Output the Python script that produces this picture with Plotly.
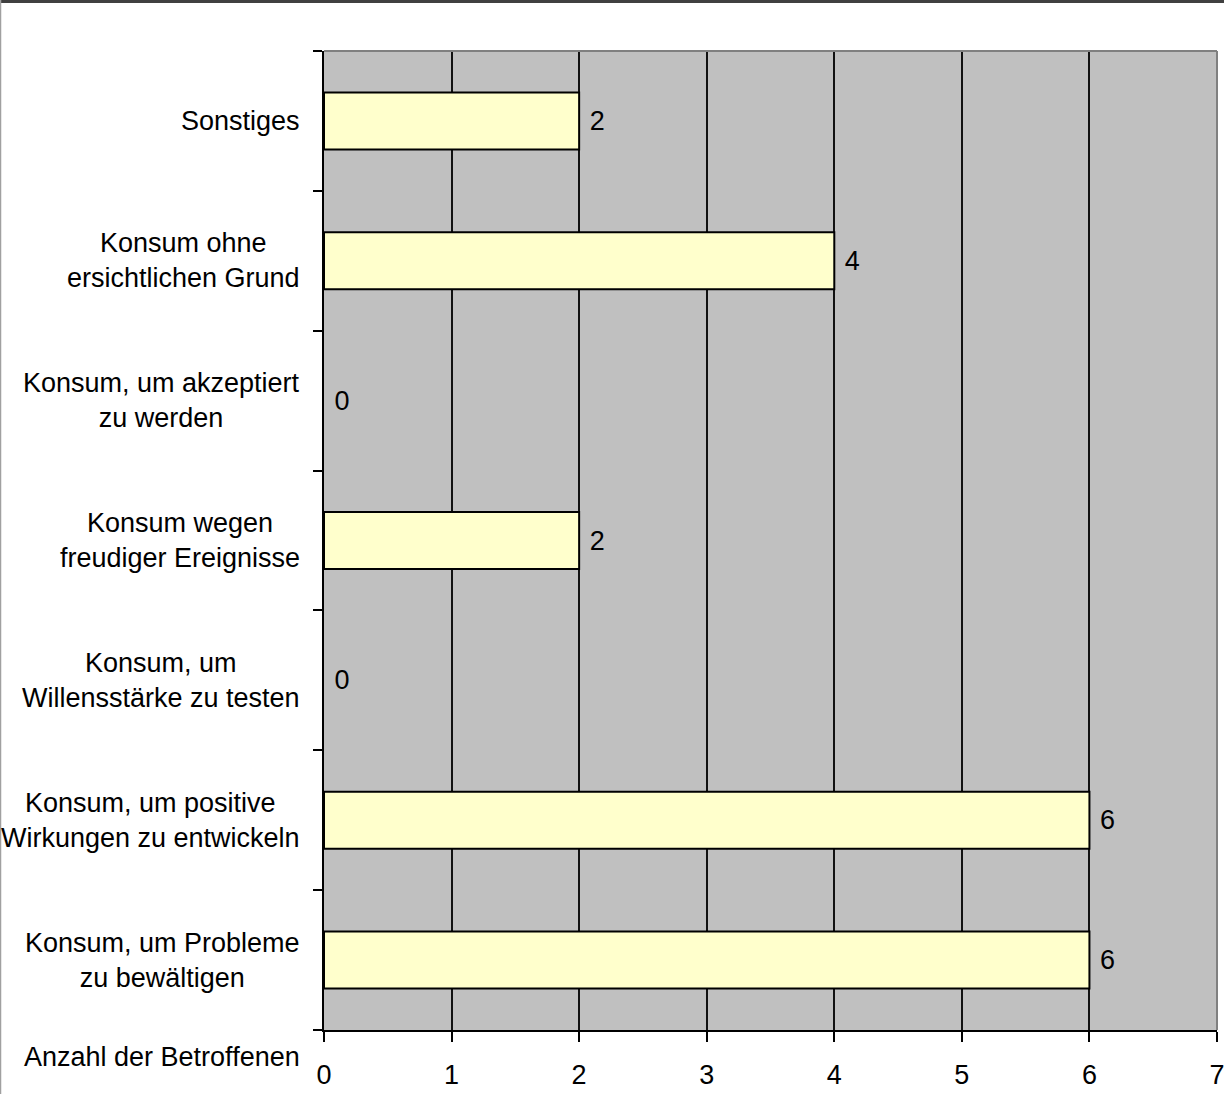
import plotly.graph_objects as go

# Reasons for consumption (listed bottom to top) and number of people affected
categories = [
    "Konsum, um Probleme<br>zu bewältigen",
    "Konsum, um positive<br>Wirkungen zu entwickeln",
    "Konsum, um<br>Willensstärke zu testen",
    "Konsum wegen<br>freudiger Ereignisse",
    "Konsum, um akzeptiert<br>zu werden",
    "Konsum ohne<br>ersichtlichen Grund",
    "Sonstiges",
]
counts = [6, 6, 0, 2, 0, 4, 2]
x_ticks = [0, 1, 2, 3, 4, 5, 6, 7]
x_title = "Anzahl der Betroffenen"

FONT = "Liberation Sans, Arial, sans-serif"
FS = 27
W, H = 1224, 1094
L, R, T, B = 324, 7, 51, 64
pw = W - L - R
ph = H - T - B

fig = go.Figure(
    go.Bar(
        x=counts,
        y=categories,
        orientation="h",
        marker=dict(
            color="#FFFFCC",
            line=dict(color="#000000", width=[2 if v else 0 for v in counts]),
        ),
        text=["\u00a0" + str(v) for v in counts],
        textposition="outside",
        textfont=dict(family=FONT, size=FS, color="#000000"),
        cliponaxis=False,
        hoverinfo="x+y",
    )
)

# Category labels, centred line by line, right edge near the axis
for cat in categories:
    fig.add_annotation(
        x=0, xref="paper", y=cat, yref="y",
        text=cat, showarrow=False,
        xanchor="right", yanchor="middle", align="center",
        xshift=-22,
        font=dict(family=FONT, size=FS, color="#000000"),
    )

# Value axis title, placed to the left of the first tick label
fig.add_annotation(
    x=0, xref="paper", y=0, yref="paper",
    text=x_title, showarrow=False,
    xanchor="right", yanchor="middle", xshift=-22, yshift=-27,
    font=dict(family=FONT, size=FS, color="#000000"),
)

# Plot area frame (top and right) and the outer chart border
fig.add_shape(type="line", xref="paper", yref="paper", x0=0, x1=1, y0=1, y1=1,
              line=dict(color="#808080", width=2))
fig.add_shape(type="line", xref="paper", yref="paper", x0=1, x1=1, y0=0, y1=1,
              line=dict(color="#808080", width=2))
fig.add_shape(type="line", xref="paper", yref="paper",
              x0=-L / pw, x1=(W - L) / pw, y0=1 + (T - 1.5) / ph, y1=1 + (T - 1.5) / ph,
              line=dict(color="#404040", width=3))
fig.add_shape(type="line", xref="paper", yref="paper",
              x0=-(L - 0.5) / pw, x1=-(L - 0.5) / pw, y0=-B / ph, y1=1 + T / ph,
              line=dict(color="#A0A0A0", width=1.5))

fig.update_layout(
    width=W, height=H,
    margin=dict(l=L, r=R, t=T, b=B, pad=0, autoexpand=False),
    paper_bgcolor="#FFFFFF",
    plot_bgcolor="#C0C0C0",
    bargap=0.593,
    showlegend=False,
    font=dict(family=FONT, size=FS, color="#000000"),
    xaxis=dict(
        range=[0, 7],
        tickvals=x_ticks,
        ticktext=[str(v) for v in x_ticks],
        automargin=False,
        ticklabeloverflow="allow",
        showgrid=True, gridcolor="#111111", gridwidth=2,
        showline=True, linecolor="#000000", linewidth=2,
        ticks="outside", ticklen=10, tickwidth=2, tickcolor="#000000",
        ticklabelstandoff=10,
        tickfont=dict(family=FONT, size=FS, color="#000000"),
        zeroline=False,
        fixedrange=True,
    ),
    yaxis=dict(
        categoryorder="array", categoryarray=categories,
        automargin=False,
        showticklabels=False,
        tickson="boundaries",
        ticks="outside", ticklen=9, tickwidth=2, tickcolor="#000000",
        showgrid=False,
        showline=True, linecolor="#000000", linewidth=2,
        zeroline=False,
        fixedrange=True,
    ),
)

fig.write_html(
    "out.html",
    post_script="document.body.style.margin='0';document.body.style.overflow='hidden';",
)
